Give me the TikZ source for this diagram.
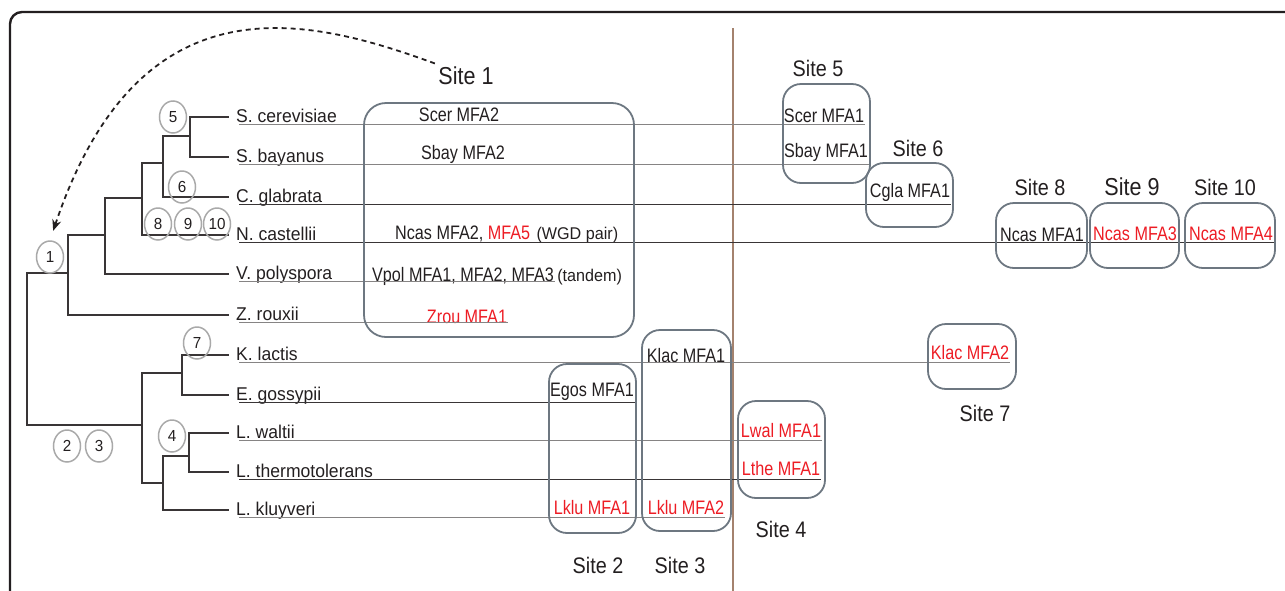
\documentclass[tikz,border=0pt]{standalone}
\usepackage{fontspec}
\setmainfont{Liberation Sans}
\newfontfamily\genefont[FakeStretch=0.83]{Liberation Sans}
\newfontfamily\leaffont[FakeStretch=0.95]{Liberation Sans}
\newfontfamily\sitefont[FakeStretch=0.88]{Liberation Sans}
\usepackage{tikz}
\usetikzlibrary{shapes.geometric,arrows.meta}
\definecolor{boxg}{HTML}{6D7781}
\definecolor{cirg}{HTML}{A9A9A9}
\definecolor{redg}{HTML}{ED1C24}
\definecolor{brownl}{HTML}{A4826E}
\definecolor{ink}{HTML}{231F20}

\begin{document}
\begin{tikzpicture}[x=1pt,y=-1pt]%
  \tikzstyle{branch}=[draw=ink!90,line width=2.3pt]
  \tikzstyle{leaf}=[anchor=west,inner xsep=7pt,inner ysep=0pt,text height=13pt,text depth=1.5pt,font=\leaffont\fontsize{18.5}{20}\selectfont,text=ink]
  \tikzstyle{cirn}=[ellipse,draw=cirg,line width=1.5pt,minimum width=27pt,minimum height=32pt,inner sep=0pt,font=\leaffont\fontsize{16}{18}\selectfont,text=ink]
  \tikzstyle{gene}=[inner sep=1pt,font=\genefont\fontsize{19.5}{21}\selectfont,text=ink]
  \tikzstyle{geneR}=[gene,text=redg]
  \tikzstyle{note}=[inner sep=1pt,font=\leaffont\fontsize{17}{19}\selectfont,text=ink]
  \tikzstyle{boxn}=[rectangle,draw=boxg,line width=1.8pt,rounded corners=18pt,inner sep=0pt]
  \tikzstyle{sitel}=[font=\sitefont\fontsize{22.5}{24}\selectfont,text=ink]
  \tikzstyle{rowl}=[draw=ink!90,line width=1pt]
  \tikzstyle{rowg}=[draw=ink!55,line width=1.2pt]
  \useasboundingbox (0,0) rectangle (1285,590);
  % frame and divider
  \draw[ink,line width=2.4pt,rounded corners=12pt] (10,600) -- (10,12) -- (1300,12);
  \draw[brownl,line width=2.2pt] (733,28) -- (733,595);
  % species
  \node[leaf] (scer) at (229,117) {S. cerevisiae};
  \node[leaf] (sbay) at (229,157) {S. bayanus};
  \node[leaf] (cgla) at (229,197) {C. glabrata};
  \node[leaf] (ncas) at (229,235) {N. castellii};
  \node[leaf] (vpol) at (229,274) {V. polyspora};
  \node[leaf] (zrou) at (229,315) {Z. rouxii};
  \node[leaf] (klac) at (229,355) {K. lactis};
  \node[leaf] (egos) at (229,395) {E. gossypii};
  \node[leaf] (lwal) at (229,433) {L. waltii};
  \node[leaf] (lthe) at (229,472) {L. thermotolerans};
  \node[leaf] (lklu) at (229,510) {L. kluyveri};
  % tree
  \coordinate (r) at (27,349);
  \coordinate (a) at (68,273);
  \coordinate (b) at (105,235);
  \coordinate (c) at (142,198);
  \coordinate (d) at (163,163);
  \coordinate (e) at (190,136);
  \coordinate (f) at (142,425);
  \coordinate (g) at (182,373);
  \coordinate (h) at (163,483);
  \coordinate (i) at (189,456);
  \foreach \p/\q in {r/a,r/f,a/b,a/zrou.west,b/c,b/vpol.west,c/d,c/ncas.west,d/e,d/cgla.west,
      e/scer.west,e/sbay.west,f/g,f/h,g/klac.west,g/egos.west,h/i,h/lklu.west,i/lwal.west,i/lthe.west}
    \draw[branch] (\p) |- (\q);
  % events
  \node[cirn] (c1) at (50,257) {1};
  \node[cirn] (c2) at (67,446) {2};
  \node[cirn] (c3) at (99,446) {3};
  \node[cirn] (c4) at (172,436) {4};
  \node[cirn] (c5) at (173,117) {5};
  \node[cirn] (c6) at (182,187) {6};
  \node[cirn] (c7) at (197,343) {7};
  \node[cirn] (c8) at (158,224) {8};
  \node[cirn] (c9) at (188,224) {9};
  \node[cirn] (c10) at (217,224) {10};
  % genes
  \node[gene] (scer2) at (459,115) {Scer MFA2};
  \node[gene] (sbay2) at (463,154) {Sbay MFA2};
  \node[gene,anchor=west] (ncas2) at (394,234) {Ncas MFA2, \textcolor{redg}{MFA5}};
  \node[note,anchor=base west] (wgd) at ([xshift=4pt]ncas2.base east) {(WGD pair)};
  \node[gene,anchor=west] (vpol1) at (371,276) {Vpol MFA1, MFA2, MFA3};
  \node[note,anchor=base west] (tandem) at ([xshift=1pt]vpol1.base east) {(tandem)};
  \node[geneR] (zrou1) at (467,317) {Zrou MFA1};
  \node[gene] (egos1) at (592,392) {Egos MFA1};
  \node[geneR] (lklu1) at (592,508) {Lklu MFA1};
  \node[gene] (klac1) at (686,356) {Klac MFA1};
  \node[geneR] (lklu2) at (686,508) {Lklu MFA2};
  \node[geneR] (lwal1) at (781,431) {Lwal MFA1};
  \node[geneR] (lthe1) at (781,469) {Lthe MFA1};
  \node[gene] (scer1) at (824,116) {Scer MFA1};
  \node[gene] (sbay1) at (826,152) {Sbay MFA1};
  \node[gene] (cgla1) at (910,192) {Cgla MFA1};
  \node[geneR] (klac2) at (970,353) {Klac MFA2};
  \node[gene] (ncas1) at (1042,235) {Ncas MFA1};
  \node[geneR] (ncas3) at (1135,234) {Ncas MFA3};
  \node[geneR] (ncas4) at (1231,234) {Ncas MFA4};
  % rows
  \foreach \src/\dst/\sty in {scer/scer1/rowg,sbay/sbay1/rowg,cgla/cgla1/rowl,ncas/ncas4/rowl,
      vpol/vpol1/rowg,zrou/zrou1/rowg,klac/klac2/rowg,egos/egos1/rowl,lwal/lwal1/rowg,
      lthe/lthe1/rowl,lklu/lklu2/rowg}
    \draw[\sty] ([xshift=10pt]\src.south west) -- (\dst.east |- \src.south);
  % sites
  \node[boxn,minimum width=270pt,minimum height=234pt,rounded corners=22pt] (site1) at (499,220) {};
  \node[boxn,minimum width=87pt,minimum height=169pt] (site2) at (592.5,448.5) {};
  \node[boxn,minimum width=89pt,minimum height=201pt] (site3) at (686.5,430.5) {};
  \node[boxn,minimum width=87pt,minimum height=97pt] (site4) at (781.5,449.5) {};
  \node[boxn,minimum width=87pt,minimum height=99pt] (site5) at (826.5,133.5) {};
  \node[boxn,minimum width=87pt,minimum height=64pt] (site6) at (909.5,195) {};
  \node[boxn,minimum width=88pt,minimum height=65pt] (site7) at (972,356.5) {};
  \node[boxn,minimum width=91pt,minimum height=65pt] (site8) at (1041.5,235.5) {};
  \node[boxn,minimum width=89pt,minimum height=65pt] (site9) at (1134.5,235.5) {};
  \node[boxn,minimum width=90pt,minimum height=65pt] (site10) at (1230,235.5) {};
  \node[sitel,font=\sitefont\fontsize{24.5}{26}\selectfont] (s1) at (466,76) {Site 1};
  \node[sitel] (s2) at (598,565) {Site 2};
  \node[sitel] (s3) at (680,565) {Site 3};
  \node[sitel] (s4) at (781,529) {Site 4};
  \node[sitel] (s5) at (818,68) {Site 5};
  \node[sitel] (s6) at (918,148) {Site 6};
  \node[sitel] (s7) at (985,413) {Site 7};
  \node[sitel] (s8) at (1040,187) {Site 8};
  \node[sitel,font=\sitefont\fontsize{24.5}{26}\selectfont] (s9) at (1132,187) {Site 9};
  \node[sitel] (s10) at (1225,187) {Site 10};
  % transfer
  \draw[ink,line width=1.8pt,dash pattern=on 5pt off 4pt,-{Stealth[length=11pt,width=9pt]},shorten >=10pt]
    (s1.north west) .. controls (310,18) and (140,-27) .. (c1.north);
\end{tikzpicture}
\end{document}
